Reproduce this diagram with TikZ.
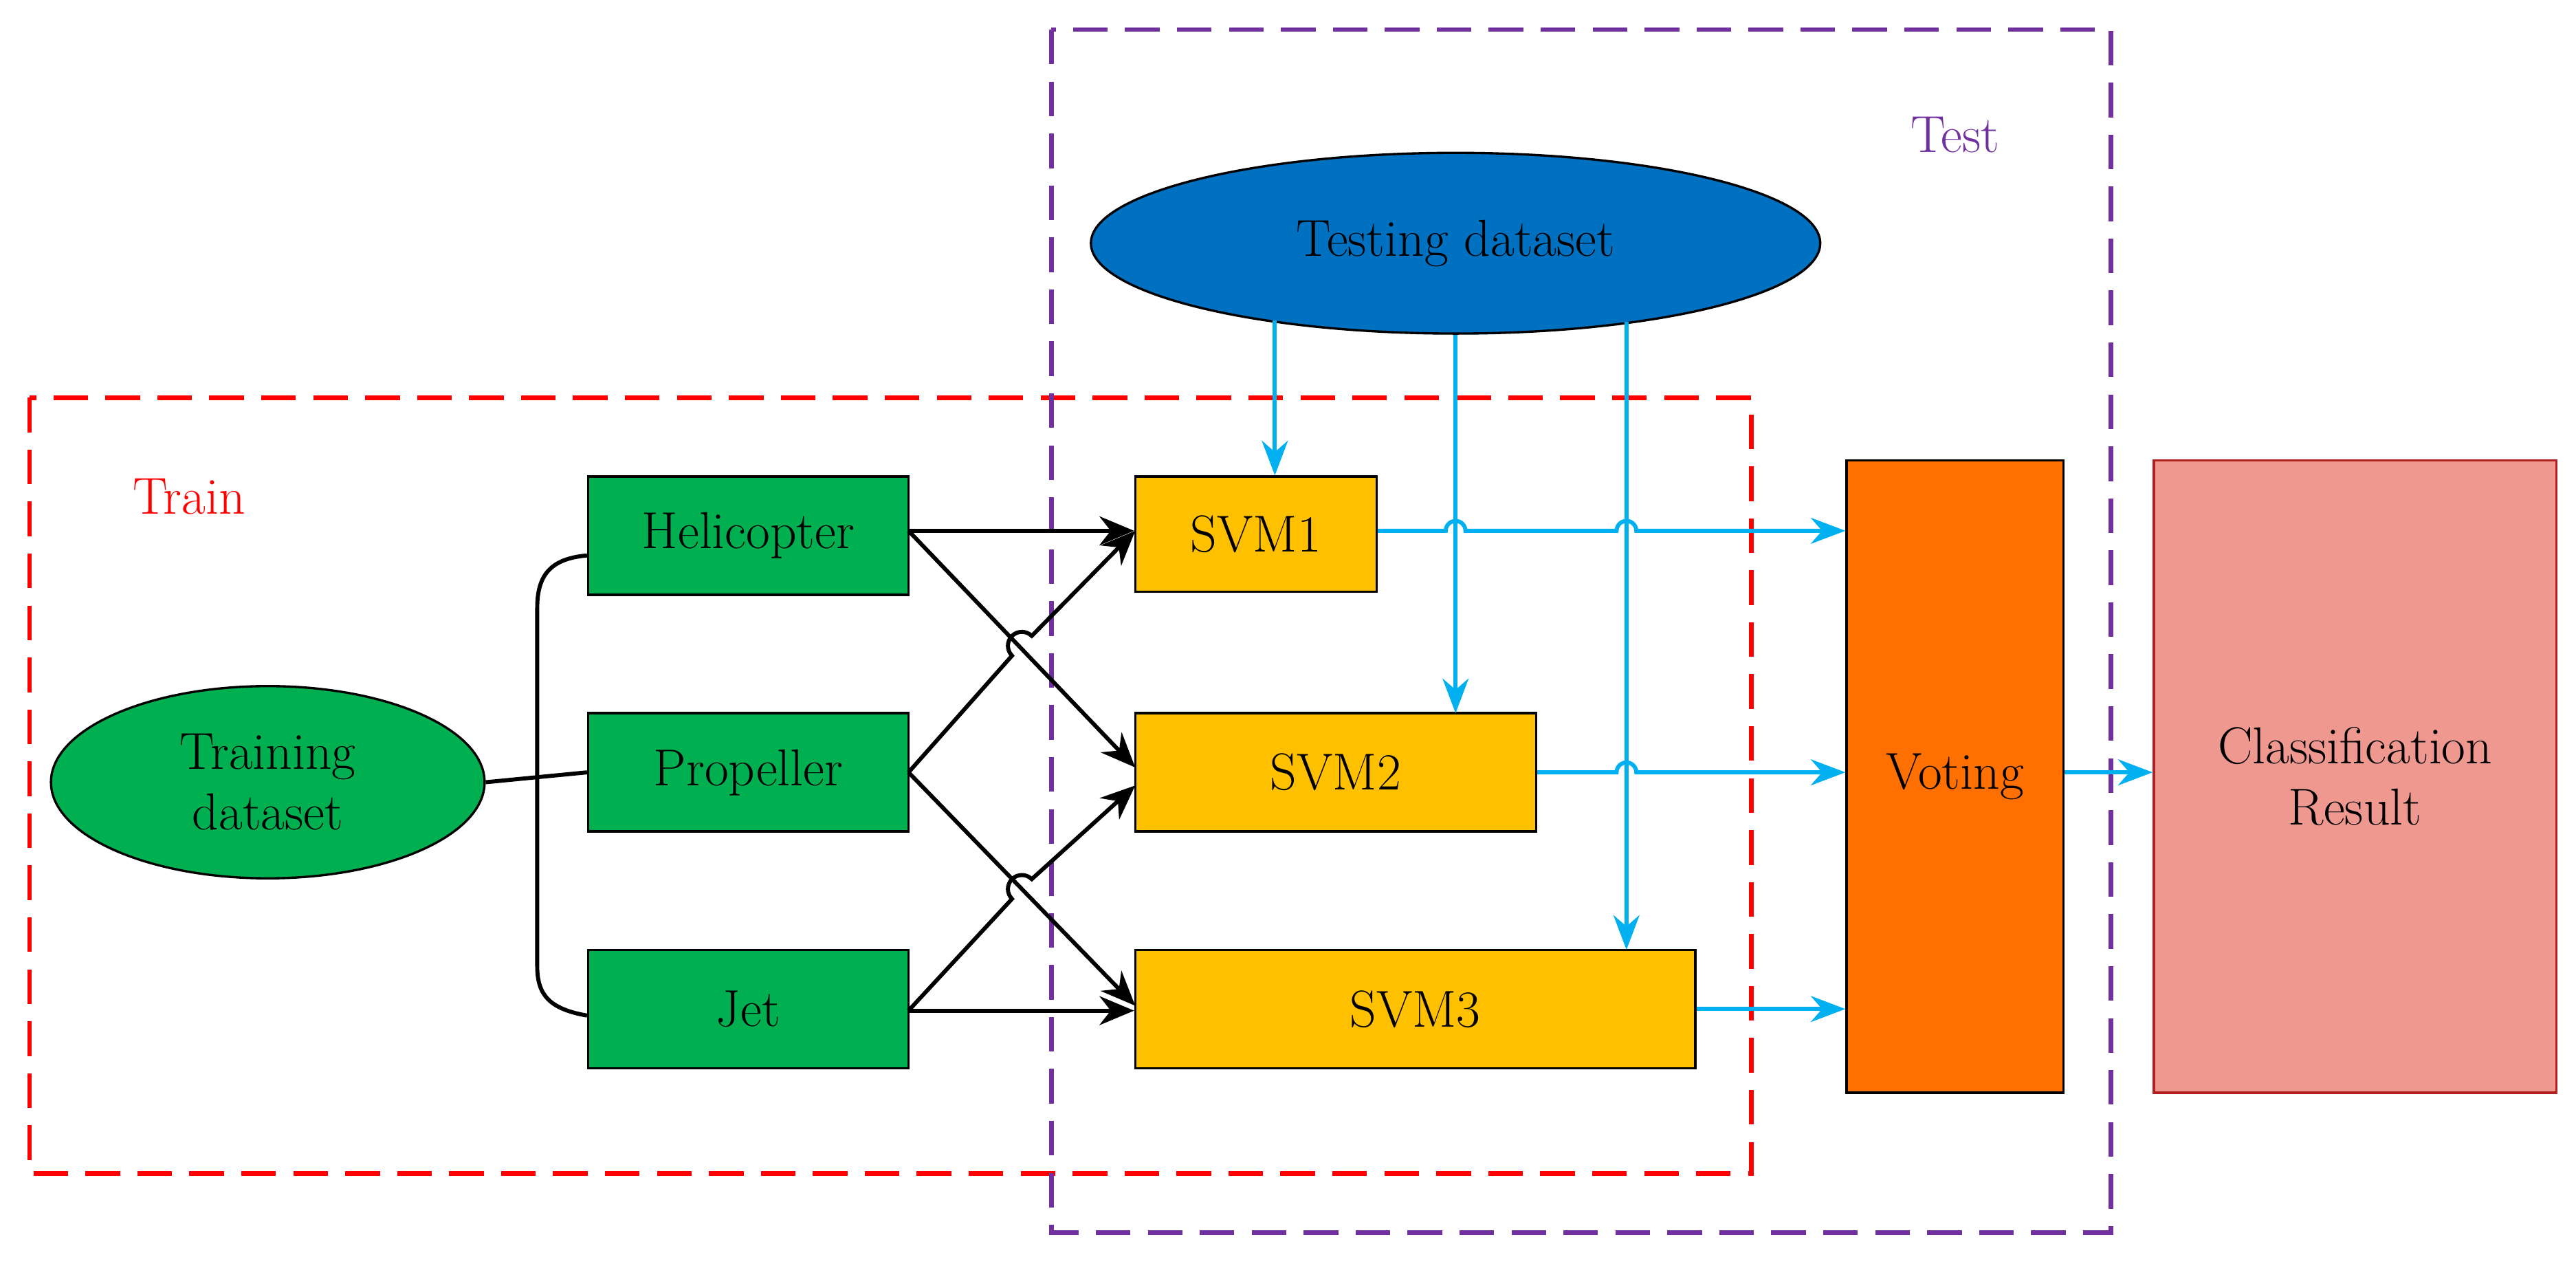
\documentclass[tikz,border=0pt]{standalone}
\usetikzlibrary{shapes.geometric,arrows.meta}
\definecolor{tgreen}{HTML}{00B050}
\definecolor{tblue}{HTML}{0070C0}
\definecolor{svm}{HTML}{FFC000}
\definecolor{vote}{HTML}{FF7000}
\definecolor{cls}{HTML}{EE9890}
\definecolor{clsb}{HTML}{B02020}
\definecolor{arr}{HTML}{00B0F0}
\definecolor{purp}{HTML}{7030A0}
\begin{document}
\begin{tikzpicture}[x=0.02cm,y=-0.02cm,font=\fontsize{18}{21}\selectfont,
 box/.style={draw=black,line width=0.8pt,inner sep=0pt},
 blk/.style={line width=1.4pt,-{Stealth[length=12pt,width=10pt]}},
 blu/.style={arr,line width=1.4pt,-{Stealth[length=12pt,width=9pt]}}]
\useasboundingbox (0,0) rectangle (1568,770);
\draw[red,dashed,line width=1.6pt,dash pattern=on 12pt off 6pt] (18,242) rectangle (1066,714);
\draw[purp,dashed,line width=1.6pt,dash pattern=on 12pt off 6pt] (640,18) rectangle (1285,750);
\node[red] (train) at (115,302) {Train};
\node[purp] (test) at (1190,82) {Test};
\node[ellipse,draw,line width=0.8pt,fill=tblue,minimum width=8.88cm,minimum height=2.2cm] (te) at (886,148) {Testing dataset};
\node[ellipse,draw,line width=0.8pt,fill=tgreen,minimum width=5.28cm,minimum height=2.34cm,align=center] (tr) at (163,476) {Training\\dataset};
\node[box,fill=tgreen,minimum width=3.9cm,minimum height=1.44cm] (h) at (455.5,326) {Helicopter};
\node[box,fill=tgreen,minimum width=3.9cm,minimum height=1.44cm] (p) at (455.5,470) {Propeller};
\node[box,fill=tgreen,minimum width=3.9cm,minimum height=1.44cm] (j) at (455.5,614) {Jet};
\node[box,fill=svm,minimum width=2.94cm,minimum height=1.4cm] (s1) at (764.5,325) {SVM1};
\node[box,fill=svm,minimum width=4.88cm,minimum height=1.44cm] (s2) at (813,470) {SVM2};
\node[box,fill=svm,minimum width=6.82cm,minimum height=1.44cm] (s3) at (861.5,614) {SVM3};
\node[box,fill=vote,minimum width=2.64cm,minimum height=7.7cm] (v) at (1190,472.5) {Voting};
\node[draw=clsb,line width=0.8pt,fill=cls,minimum width=4.9cm,minimum height=7.7cm,align=center,inner sep=0pt] (c) at (1433.5,472.5) {Classification\\Result};
% bracket
\draw[line width=1.4pt] (tr.east) -- (p.west);
\draw[line width=1.4pt] (h.west |- 0,338) .. controls (335,340) and (327,350) .. (327,370) -- (327,588) .. controls (327,606) and (335,614) .. (j.west |- 0,618);
% black arrows
\coordinate (hE) at (553,323); \coordinate (pE) at (553,470); \coordinate (jE) at (553,615);
\draw[blk] (hE) -- (s1.west |- hE);
\draw[blk] (hE) -- (691,467);
\draw[blk] (pE) -- (616,399) arc[start angle=225,end angle=45,radius=0.17cm] -- (691,323);
\draw[blk] (pE) -- (691,612);
\draw[blk] (jE) -- (616,547) arc[start angle=225,end angle=45,radius=0.17cm] -- (691,478);
\draw[blk] (jE) -- (s3.west |- jE);
% blue
\draw[blu] (776,195) -- (s1.north -| 776,0);
\draw[blu] (te.south -| 886,0) -- (886,434);
\draw[blu] (990,196) -- (990,578);
\draw[blu] (s1.east |- 0,323) -- (880,323) arc[start angle=180,end angle=0,radius=0.12cm] -- (984,323) arc[start angle=180,end angle=0,radius=0.12cm] -- (v.west |- 0,323);
\draw[blu] (s2.east) -- (984,470) arc[start angle=180,end angle=0,radius=0.12cm] -- (v.west |- s2.east);
\draw[blu] (s3.east) -- (v.west |- s3.east);
\draw[blu] (v.east |- 0,470) -- (c.west |- 0,470);
\end{tikzpicture}
\end{document}
